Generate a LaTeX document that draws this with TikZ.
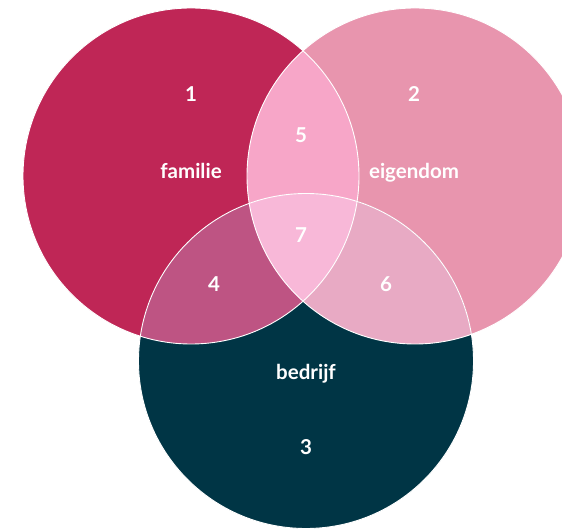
\documentclass[tikz,border=0pt]{standalone}
\usepackage{fontspec}
\setmainfont{Lato}
\usetikzlibrary{positioning}

\definecolor{famred}{HTML}{BF2656}
\definecolor{eigpink}{HTML}{E895AE}
\definecolor{bedteal}{HTML}{003545}
\definecolor{overlapfe}{HTML}{F7A6C8}
\definecolor{overlapfb}{HTML}{BE5483}
\definecolor{overlapeb}{HTML}{E8AAC4}
\definecolor{overlapall}{HTML}{F8B8D8}

\begin{document}
\begin{tikzpicture}[x=1pt, y=-1pt,
    lbl/.style={text=white, anchor=base, inner sep=0pt, font=\bfseries\fontsize{20.5}{21}\selectfont},
    rim/.style={draw=white, line width=0.9pt}]
    \useasboundingbox (0,0) rectangle (562,529);

    \def\famcircle{(191,176) circle[radius=168]}
    \def\eigcircle{(415,176) circle[radius=168]}
    \def\bedcircle{(306,361) circle[radius=167.5]}

    % Base circles
    \fill[famred] \famcircle;
    \fill[eigpink] \eigcircle;
    \fill[bedteal] \bedcircle;

    % Overlaps
    \begin{scope}
        \clip \famcircle;
        \fill[overlapfe] \eigcircle;
        \fill[overlapfb] \bedcircle;
    \end{scope}
    \begin{scope}
        \clip \eigcircle;
        \fill[overlapeb] \bedcircle;
    \end{scope}
    \begin{scope}
        \clip \famcircle;
        \clip \eigcircle;
        \fill[overlapall] \bedcircle;
    \end{scope}

    % Outlines
    \draw[rim] \famcircle;
    \draw[rim] \eigcircle;
    \draw[rim] \bedcircle;

    % Region numbers
    \node (n1) [lbl] at (191,102) {1};
    \node (n2) [lbl] at (414,102) {2};
    \node (n3) [lbl] at (306,454) {3};
    \node (n4) [lbl] at (214,291) {4};
    \node (n5) [lbl] at (301,143) {5};
    \node (n6) [lbl] at (386,291) {6};
    \node (n7) [lbl] at (301,243) {7};

    % Set names
    \node (familie) [lbl] at (191,179) {familie};
    \node (eigendom) [lbl] at (414,179) {eigendom};
    \node (bedrijf) [lbl] at (306,379) {bedrijf};
\end{tikzpicture}
\end{document}
